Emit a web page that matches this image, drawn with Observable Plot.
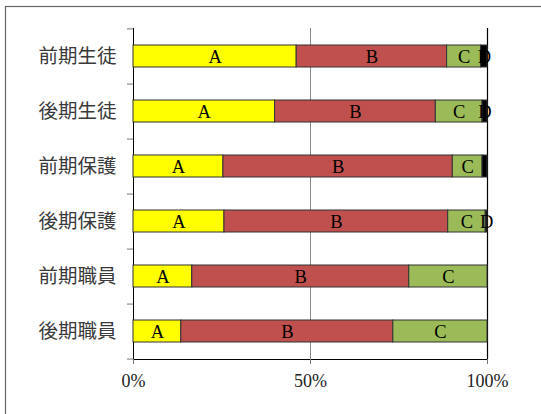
<!DOCTYPE html>
<html>
<head>
<meta charset="utf-8">
<script src="https://cdn.jsdelivr.net/npm/d3@7"></script>
<script src="https://cdn.jsdelivr.net/npm/@observablehq/plot@0.6"></script>
<style>
  html, body { margin: 0; padding: 0; background: #fff; }
  #chart { position: relative; width: 541px; height: 414px; overflow: hidden; }
  #chart svg { display: block; }
  g[aria-label^="y-axis"] text { font-family: "Noto Sans CJK JP", sans-serif; font-size: 19.5px; fill: #3a3a3a; }
  g[aria-label^="x-axis"] text { font-family: "Liberation Serif", serif; font-size: 18px; fill: #222; }
</style>
</head>
<body>
<div id="chart"></div>
<script>
const categories = ["前期生徒", "後期生徒", "前期保護", "後期保護", "前期職員", "後期職員"];
const seriesNames = ["A", "B", "C", "D"];
const valuesA = [46.1, 40.0, 25.4, 25.7, 16.6, 13.5];
const valuesB = [42.5, 45.4, 64.8, 63.2, 61.3, 59.9];
const valuesC = [9.6, 13.2, 8.4, 10.6, 22.1, 26.6];
const valuesD = [1.8, 1.4, 1.4, 0.5, 0, 0];
const labelsD = ["D", "D", "", "D", "", ""];
const xTicks = [0, 50, 100];
const colors = ["#FFFF00", "#C0504D", "#9BBB59", "#000000"];

const seriesValues = [valuesA, valuesB, valuesC, valuesD];
const rows = [];
categories.forEach((cat, i) => {
  seriesNames.forEach((s, j) => {
    rows.push({cat, series: s, value: seriesValues[j][i], label: s === "D" ? labelsD[i] : s});
  });
});
const visible = rows.filter(d => d.value > 0);

const W = 541, H = 414, mT = 28, mB = 55, mL = 133, mR = 54;
const step = (H - mT - mB) / categories.length;

const chart = Plot.plot({
  width: W,
  height: H,
  marginTop: mT,
  marginBottom: mB,
  marginLeft: mL,
  marginRight: mR,
  style: {background: "#fff", overflow: "visible"},
  x: {domain: [0, 100], ticks: xTicks, tickFormat: d => d + "%", tickSize: 5, tickPadding: 10, label: null, line: true},
  y: {domain: categories, paddingInner: 0.6, paddingOuter: 0.3, tickSize: 0, tickPadding: 17, label: null, line: true},
  color: {domain: seriesNames, range: colors},
  marks: [
    Plot.ruleX([50], {stroke: "#8a8a8a", strokeWidth: 1}),
    Plot.ruleX([100], {stroke: "#000", strokeWidth: 1.2}),
    Plot.ruleY(categories, {y: d => d, x1: -1.7, x2: 0, dy: step / 2, stroke: "#777"}),
    Plot.ruleY(categories.slice(0, 1), {y: d => d, x1: -1.7, x2: 0, dy: -step / 2, stroke: "#777"}),
    Plot.barX(visible, Plot.stackX({x: "value", y: "cat", fill: "series", order: seriesNames, stroke: "#333", strokeWidth: 1})),
    Plot.text(visible, Plot.stackX({x: "value", y: "cat", z: "series", order: seriesNames, text: "label",
      fontFamily: "Liberation Serif, serif", fontSize: 18.5, fill: "#000", dy: 0.5}))
  ]
});

document.getElementById("chart").appendChild(chart);
d3.select(chart).append("rect")
  .attr("x", 5.5).attr("y", 6.5).attr("width", 700).attr("height", 600)
  .attr("fill", "none").attr("stroke", "#666").attr("stroke-width", 1.2);
d3.select(chart).selectAll('g[aria-label^="x-axis"] path, g[aria-label^="x-axis"] line').attr("stroke", "#777");
d3.select(chart).selectAll('g[aria-label^="y-axis"] path, g[aria-label^="y-axis"] line').attr("stroke", "#777");
</script>
</body>
</html>
